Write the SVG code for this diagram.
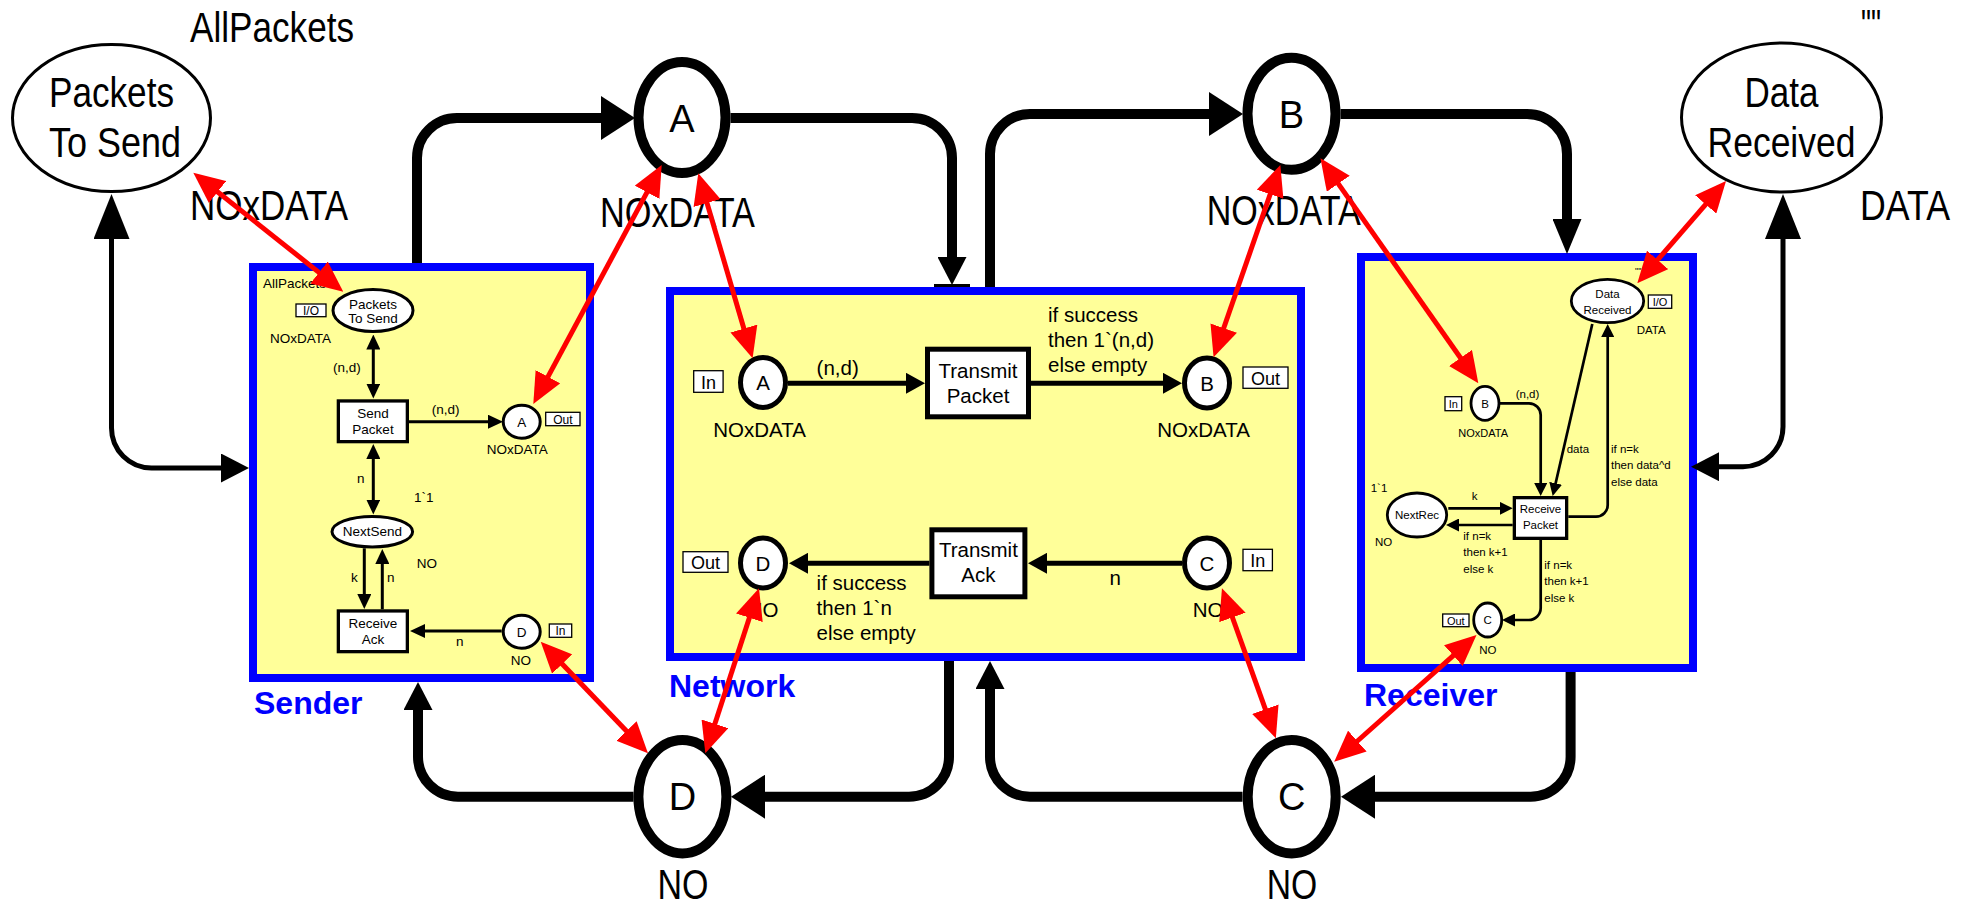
<svg xmlns="http://www.w3.org/2000/svg" width="1962" height="909" viewBox="0 0 1962 909">
<defs>
<style>
text { font-family: "Liberation Sans", Arial, sans-serif; fill: #000; }
.c { text-anchor: middle; }
.big { font-size: 42px; }
.pl { font-size: 38px; text-anchor: middle; }
.title { font-size: 32px; font-weight: bold; fill: #0000FF; }
.sub { fill: #FFFF99; stroke: #0000FF; stroke-width: 8; }
.place-big { fill: #fff; stroke: #000; stroke-width: 10; }
.place-io { fill: #fff; stroke: #000; stroke-width: 3; }
.arc-big { fill: none; stroke: #000; stroke-width: 10; }
.arc-io { fill: none; stroke: #000; stroke-width: 5; }
.red { fill: none; stroke: #FF0000; stroke-width: 5; marker-start: url(#mRed); marker-end: url(#mRed); }
.port { fill: #fff; stroke: #000; stroke-width: 1.3; }
.st { font-size: 13.5px; }
.sp { font-size: 12px; }
.s-pl { fill: #fff; stroke: #000; stroke-width: 3; }
.s-tr { fill: #fff; stroke: #000; stroke-width: 3.3; }
.s-arc { fill: none; stroke: #000; stroke-width: 3; }
.nt { font-size: 20.5px; }
.np { font-size: 18px; }
.n-pl { fill: #fff; stroke: #000; stroke-width: 5; }
.n-tr { fill: #fff; stroke: #000; stroke-width: 5; }
.n-arc { fill: none; stroke: #000; stroke-width: 5; marker-end: url(#mN); }
.rt { font-size: 11.5px; }
.rp { font-size: 11px; }
.r-pl { fill: #fff; stroke: #000; stroke-width: 2.8; }
.r-tr { fill: #fff; stroke: #000; stroke-width: 3.3; }
.r-arc { fill: none; stroke: #000; stroke-width: 2.7; marker-end: url(#mR); }
</style>
<marker id="mBig" markerUnits="userSpaceOnUse" viewBox="0 0 34 44" markerWidth="34" markerHeight="44" refX="1" refY="22" orient="auto-start-reverse"><path d="M0,0 L34,22 L0,44 z" fill="#000"/></marker>
<marker id="mBox" markerUnits="userSpaceOnUse" viewBox="0 0 28 29" markerWidth="28" markerHeight="29" refX="1" refY="14.5" orient="auto-start-reverse"><path d="M0,0 L28,14.5 L0,29 z" fill="#000"/></marker>
<marker id="mBox2" markerUnits="userSpaceOnUse" viewBox="0 0 35 29" markerWidth="35" markerHeight="29" refX="1" refY="14.5" orient="auto-start-reverse"><path d="M0,0 L35,14.5 L0,29 z" fill="#000"/></marker>
<marker id="mIO" markerUnits="userSpaceOnUse" viewBox="0 0 45 36" markerWidth="45" markerHeight="36" refX="1" refY="18" orient="auto-start-reverse"><path d="M0,0 L45,18 L0,36 z" fill="#000"/></marker>
<marker id="mRed" markerUnits="userSpaceOnUse" viewBox="0 0 31 28" markerWidth="31" markerHeight="28" refX="1" refY="14" orient="auto-start-reverse"><path d="M0,0 L31,14 L0,28 z" fill="#FF0000"/></marker>
<marker id="mS" markerUnits="userSpaceOnUse" viewBox="0 0 15 14" markerWidth="15" markerHeight="14" refX="1" refY="7" orient="auto-start-reverse"><path d="M0,0 L15,7 L0,14 z" fill="#000"/></marker>
<marker id="mN" markerUnits="userSpaceOnUse" viewBox="0 0 19 21" markerWidth="19" markerHeight="21" refX="1" refY="10.5" orient="auto-start-reverse"><path d="M0,0 L19,10.5 L0,21 z" fill="#000"/></marker>
<marker id="mR" markerUnits="userSpaceOnUse" viewBox="0 0 13 13" markerWidth="13" markerHeight="13" refX="1" refY="6.5" orient="auto-start-reverse"><path d="M0,0 L13,6.5 L0,13 z" fill="#000"/></marker>
</defs>

<rect width="1962" height="909" fill="#fff"/>

<!-- Sender subpage -->
<g id="sender">
  <rect class="sub" x="253" y="267" width="337" height="411"/>
  <text class="st" x="263" y="288">AllPackets</text>
  <g id="sender-packets">
    <rect class="port" x="296" y="304" width="30" height="12.7"/>
    <text class="sp c" x="311" y="315">I/O</text>
    <ellipse class="s-pl" cx="373" cy="310.5" rx="40" ry="21"/>
    <text class="st c" x="373" y="308.5">Packets</text>
    <text class="st c" x="373" y="322.5">To Send</text>
    <text class="st" x="270" y="342.5">NOxDATA</text>
  </g>
  <g id="sender-send">
    <rect class="s-tr" x="338.35" y="400.95" width="69" height="40.7"/>
    <text class="st c" x="373" y="418">Send</text>
    <text class="st c" x="373" y="434">Packet</text>
  </g>
  <g id="sender-a">
    <ellipse class="s-pl" cx="521.7" cy="421.7" rx="18.5" ry="16.5"/>
    <text class="st c" x="521.7" y="426.5">A</text>
    <rect class="port" x="545.7" y="412.3" width="34.3" height="13.4"/>
    <text class="sp c" x="562.8" y="423.5">Out</text>
    <text class="st" x="486.7" y="454">NOxDATA</text>
  </g>
  <g id="sender-next">
    <ellipse class="s-pl" cx="372.3" cy="531.7" rx="40.3" ry="15.3"/>
    <text class="st c" x="372.3" y="536">NextSend</text>
    <text class="st" x="414" y="502">1`1</text>
    <text class="st" x="416.7" y="568">NO</text>
  </g>
  <g id="sender-ack">
    <rect class="s-tr" x="338.35" y="610.95" width="69" height="40.7"/>
    <text class="st c" x="373" y="627.5">Receive</text>
    <text class="st c" x="373" y="643.5">Ack</text>
  </g>
  <g id="sender-d">
    <ellipse class="s-pl" cx="521.7" cy="631.7" rx="18.5" ry="16.5"/>
    <text class="st c" x="521.7" y="636.5">D</text>
    <rect class="port" x="549.3" y="624" width="22.4" height="13.3"/>
    <text class="sp c" x="560.5" y="635">In</text>
    <text class="st" x="510.7" y="665">NO</text>
  </g>
  <g id="sender-arcs">
    <path class="s-arc" d="M373.3 348.5 V384.5" marker-start="url(#mS)" marker-end="url(#mS)"/>
    <text class="st" x="333" y="371.5">(n,d)</text>
    <path class="s-arc" d="M409 421.7 H489" marker-end="url(#mS)"/>
    <text class="st" x="431.7" y="414">(n,d)</text>
    <path class="s-arc" d="M373.3 458 V500.5" marker-start="url(#mS)" marker-end="url(#mS)"/>
    <text class="st" x="357" y="483">n</text>
    <path class="s-arc" d="M364.3 548.3 V595" marker-end="url(#mS)"/>
    <text class="st" x="351" y="582">k</text>
    <path class="s-arc" d="M382.3 609.3 V563" marker-end="url(#mS)"/>
    <text class="st" x="387" y="582">n</text>
    <path class="s-arc" d="M501.7 631 H424" marker-end="url(#mS)"/>
    <text class="st" x="456" y="646">n</text>
  </g>
</g>

<!-- Network subpage -->
<g id="network">
  <rect class="sub" x="670" y="291" width="631" height="366"/>
  <g id="network-a">
    <rect class="port" x="693.7" y="370.7" width="29.4" height="21.6"/>
    <text class="np c" x="708.4" y="388.5">In</text>
    <ellipse class="n-pl" cx="763" cy="382.5" rx="22.5" ry="25"/>
    <text class="nt c" x="763" y="390">A</text>
    <text class="nt c" x="759.5" y="436.7">NOxDATA</text>
  </g>
  <g id="network-tp">
    <rect class="n-tr" x="927.5" y="349.2" width="101" height="67.6"/>
    <text class="nt c" x="978" y="378">Transmit</text>
    <text class="nt c" x="978" y="403">Packet</text>
  </g>
  <g id="network-b">
    <ellipse class="n-pl" cx="1207" cy="383" rx="22.5" ry="25"/>
    <text class="nt c" x="1207" y="390.5">B</text>
    <rect class="port" x="1243" y="367" width="45" height="21.3"/>
    <text class="np c" x="1265.5" y="385">Out</text>
    <text class="nt c" x="1203.5" y="436.7">NOxDATA</text>
  </g>
  <g id="network-d">
    <rect class="port" x="683" y="551.7" width="45" height="20.6"/>
    <text class="np c" x="705.5" y="569">Out</text>
    <ellipse class="n-pl" cx="763" cy="563" rx="22.5" ry="25"/>
    <text class="nt c" x="763" y="570.5">D</text>
    <text class="nt c" x="763" y="616.7">NO</text>
  </g>
  <g id="network-ta">
    <rect class="n-tr" x="931.9" y="529.8" width="93" height="67"/>
    <text class="nt c" x="978.4" y="556.7">Transmit</text>
    <text class="nt c" x="978.4" y="581.7">Ack</text>
  </g>
  <g id="network-c">
    <ellipse class="n-pl" cx="1207" cy="563" rx="22.5" ry="25"/>
    <text class="nt c" x="1207" y="570.5">C</text>
    <rect class="port" x="1243" y="549.3" width="29.4" height="21.4"/>
    <text class="np c" x="1257.7" y="567">In</text>
    <text class="nt c" x="1208" y="616.7">NO</text>
  </g>
  <g id="network-arcs">
    <path class="n-arc" d="M788 383.3 H907"/>
    <text class="nt" x="816.6" y="375">(n,d)</text>
    <path class="n-arc" d="M1031 383.3 H1164"/>
    <text class="nt" x="1048" y="321.7">if success</text>
    <text class="nt" x="1048" y="346.7">then 1`(n,d)</text>
    <text class="nt" x="1048" y="371.7">else empty</text>
    <path class="n-arc" d="M929.4 563.3 H807"/>
    <text class="nt" x="816.6" y="590">if success</text>
    <text class="nt" x="816.6" y="615">then 1`n</text>
    <text class="nt" x="816.6" y="640">else empty</text>
    <path class="n-arc" d="M1182 563.3 H1046"/>
    <text class="nt" x="1109.5" y="585">n</text>
  </g>
</g>

<!-- Receiver subpage -->
<g id="receiver">
  <rect class="sub" x="1361" y="257" width="332" height="411"/>
  <g id="receiver-data">
    <text style="font-size:9px" x="1635" y="274">""</text>
    <ellipse class="r-pl" cx="1607.5" cy="301" rx="36.2" ry="21.7"/>
    <text class="rt c" x="1607.5" y="298">Data</text>
    <text class="rt c" x="1607.5" y="314">Received</text>
    <rect class="port" x="1648.3" y="295" width="23.4" height="13.3"/>
    <text class="rp c" x="1660" y="305.5">I/O</text>
    <text class="rt" x="1636.7" y="334">DATA</text>
  </g>
  <g id="receiver-b">
    <rect class="port" x="1445" y="396.7" width="16.7" height="14"/>
    <text class="rp c" x="1453.3" y="407.5">In</text>
    <ellipse class="r-pl" cx="1485" cy="403.3" rx="14" ry="17"/>
    <text class="rt c" x="1485" y="407.5">B</text>
    <text class="rp" x="1458.3" y="437.3">NOxDATA</text>
  </g>
  <g id="receiver-rp">
    <rect class="r-tr" x="1514.35" y="497.65" width="52.3" height="40.7"/>
    <text class="rt c" x="1540.5" y="513.3">Receive</text>
    <text class="rt c" x="1540.5" y="529.3">Packet</text>
  </g>
  <g id="receiver-next">
    <ellipse class="r-pl" cx="1417" cy="515" rx="29.7" ry="22"/>
    <text class="rt c" x="1417" y="519.3">NextRec</text>
    <text class="rt" x="1370.7" y="491.7">1`1</text>
    <text class="rt" x="1375" y="546">NO</text>
  </g>
  <g id="receiver-c">
    <rect class="port" x="1442.7" y="614" width="26.3" height="12.7"/>
    <text class="rp c" x="1455.8" y="624.5">Out</text>
    <ellipse class="r-pl" cx="1487.7" cy="620" rx="14" ry="17"/>
    <text class="rt c" x="1487.7" y="624">C</text>
    <text class="rt" x="1479.3" y="654.3">NO</text>
  </g>
  <g id="receiver-arcs">
    <path class="r-arc" d="M1500 403.3 H1529 A11.7 11.7 0 0 1 1540.7 415 V484"/>
    <text class="rt" x="1515.7" y="398.3">(n,d)</text>
    <path class="r-arc" d="M1592.3 324 L1555.4 484.3"/>
    <text class="rt" x="1566.7" y="452.7">data</text>
    <path class="r-arc" d="M1568.3 516.7 H1596 A11.7 11.7 0 0 0 1607.7 505 V336"/>
    <text class="rt" x="1611" y="453.3">if n=k</text>
    <text class="rt" x="1611" y="469.3">then data^d</text>
    <text class="rt" x="1611" y="485.7">else data</text>
    <path class="r-arc" d="M1448.3 508.3 H1500.7"/>
    <text class="rt" x="1471.7" y="500">k</text>
    <path class="r-arc" d="M1512.7 525 H1458"/>
    <text class="rt" x="1463.3" y="540">if n=k</text>
    <text class="rt" x="1463.3" y="556">then k+1</text>
    <text class="rt" x="1463.3" y="572.7">else k</text>
    <path class="r-arc" d="M1540.7 540 V608 A12 12 0 0 1 1528.7 620 H1514"/>
    <text class="rt" x="1544.3" y="569.3">if n=k</text>
    <text class="rt" x="1544.3" y="585">then k+1</text>
    <text class="rt" x="1544.3" y="601.7">else k</text>
  </g>
</g>

<!-- Top-level places -->
<g id="packets-to-send">
  <text class="big" x="190" y="42" textLength="164" lengthAdjust="spacingAndGlyphs">AllPackets</text>
  <ellipse class="place-io" cx="111.5" cy="118" rx="99" ry="73.5"/>
  <text class="big c" x="111.5" y="107" textLength="125" lengthAdjust="spacingAndGlyphs">Packets</text>
  <text class="big c" x="115" y="157" textLength="132" lengthAdjust="spacingAndGlyphs">To Send</text>
  <text class="big" x="190" y="220" textLength="158" lengthAdjust="spacingAndGlyphs">NOxDATA</text>
</g>
<g id="place-a">
  <ellipse class="place-big" cx="682" cy="117.5" rx="43.5" ry="55.5"/>
  <text class="pl" x="682" y="131.7">A</text>
  <text class="big" x="600" y="226.7" textLength="155" lengthAdjust="spacingAndGlyphs">NOxDATA</text>
</g>
<g id="place-b">
  <ellipse class="place-big" cx="1291.5" cy="113.8" rx="44" ry="56"/>
  <text class="pl" x="1291.5" y="128.3">B</text>
  <text class="big" x="1206.7" y="225" textLength="154" lengthAdjust="spacingAndGlyphs">NOxDATA</text>
</g>
<g id="data-received">
  <text class="big" x="1861" y="39" textLength="20" lengthAdjust="spacingAndGlyphs">""</text>
  <ellipse class="place-io" cx="1781.5" cy="117.5" rx="100" ry="74.5"/>
  <text class="big c" x="1781.5" y="106.7" textLength="74" lengthAdjust="spacingAndGlyphs">Data</text>
  <text class="big c" x="1781.5" y="156.7" textLength="148" lengthAdjust="spacingAndGlyphs">Received</text>
  <text class="big" x="1860" y="220" textLength="90" lengthAdjust="spacingAndGlyphs">DATA</text>
</g>
<g id="place-d">
  <ellipse class="place-big" cx="682.4" cy="796.7" rx="44" ry="56.7"/>
  <text class="pl" x="682.4" y="810">D</text>
  <text class="big" x="657.5" y="899" textLength="51" lengthAdjust="spacingAndGlyphs">NO</text>
</g>
<g id="place-c">
  <ellipse class="place-big" cx="1291.7" cy="796.7" rx="44" ry="56.7"/>
  <text class="pl" x="1291.7" y="810">C</text>
  <text class="big" x="1266.7" y="899" textLength="50.5" lengthAdjust="spacingAndGlyphs">NO</text>
</g>

<!-- Subpage titles -->
<text class="title" x="254" y="714">Sender</text>
<text class="title" x="669" y="697">Network</text>
<text class="title" x="1364" y="706">Receiver</text>

<!-- Top-level arcs -->
<g id="connectors">
  <path class="arc-big" d="M417 263 V158 A40 40 0 0 1 457 118 H602" marker-end="url(#mBig)"/>
  <path class="arc-big" d="M730.5 118 H912 A40 40 0 0 1 952 158 V258" marker-end="url(#mBox)"/>
  <path d="M934 285.5 H970" stroke="#000" stroke-width="3"/>
  <path class="arc-big" d="M990 287 V154 A40 40 0 0 1 1030 114 H1210" marker-end="url(#mBig)"/>
  <path class="arc-big" d="M1340.5 114 H1527 A40 40 0 0 1 1567 154 V220" marker-end="url(#mBox2)"/>
  <path class="arc-io" d="M1718 466.7 H1743 A40 40 0 0 0 1783 426.7 V238" marker-start="url(#mBox)" marker-end="url(#mIO)"/>
  <path class="arc-io" d="M111.5 238 V428 A40 40 0 0 0 151.5 468 H222" marker-start="url(#mIO)" marker-end="url(#mBox)"/>
  <path class="arc-big" d="M633.5 796.7 H458 A40 40 0 0 1 418 756.7 V709" marker-end="url(#mBox)"/>
  <path class="arc-big" d="M949 661 V756.7 A40 40 0 0 1 909 796.7 H764" marker-end="url(#mBig)"/>
  <path class="arc-big" d="M1242.5 796.7 H1030 A40 40 0 0 1 990 756.7 V688" marker-end="url(#mBox)"/>
  <path class="arc-big" d="M1570.6 672 V756.7 A40 40 0 0 1 1530.6 796.7 H1374" marker-end="url(#mBig)"/>
</g>

<!-- Port/socket assignments -->
<g id="assignments">
  <path class="red" d="M216.8 191.3 L319.8 273.1"/>
  <path class="red" d="M647.5 191.4 L547.5 377.6"/>
  <path class="red" d="M706.75 202.1 L744.15 329.5"/>
  <path class="red" d="M1270.5 193.3 L1223.4 329"/>
  <path class="red" d="M1337.7 182.9 L1461.1 358.7"/>
  <path class="red" d="M1706.35 203.67 L1656.95 260.63"/>
  <path class="red" d="M561.5 663.3 L627.2 731.7"/>
  <path class="red" d="M749.7 616.8 L714.6 724.8"/>
  <path class="red" d="M1232.1 616.5 L1265.7 710.1"/>
  <path class="red" d="M1454.1 654.95 L1356.6 741.75"/>
</g>
</svg>
